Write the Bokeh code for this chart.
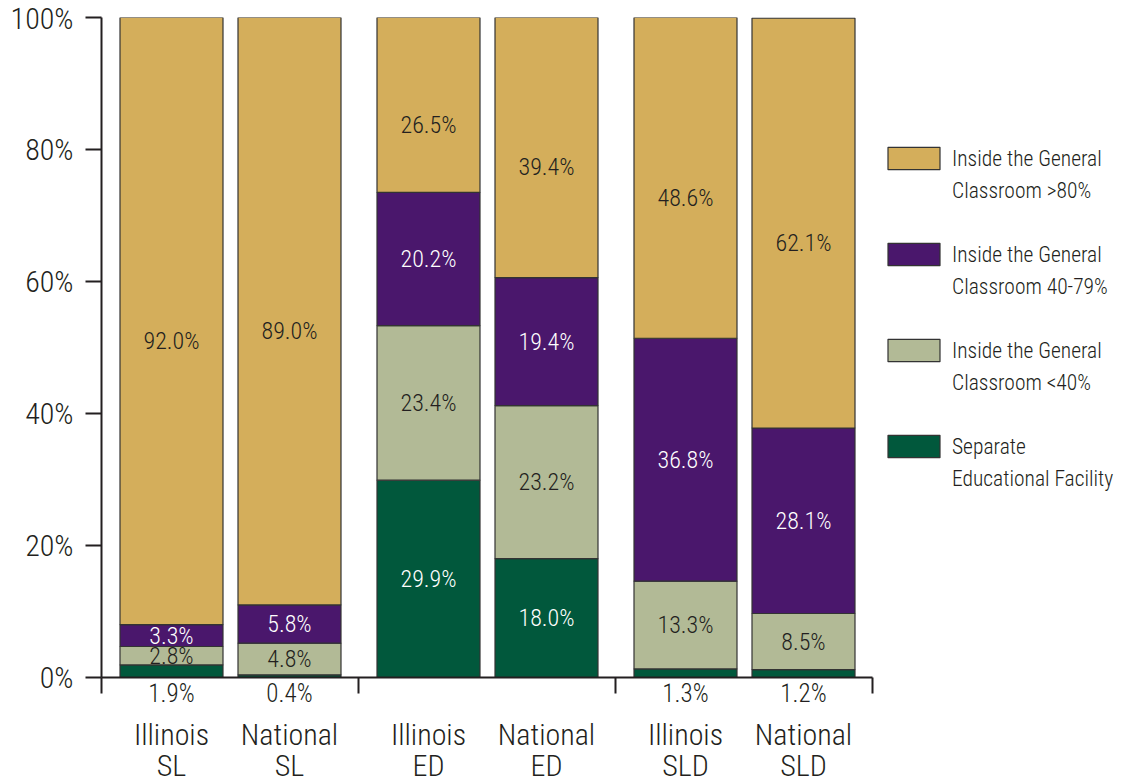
from bokeh.plotting import figure
from bokeh.models import (Range1d, FixedTicker, LinearAxis, PrintfTickFormatter,
                          ColumnDataSource, Legend, LegendItem)
from bokeh.core.properties import value
from bokeh.embed import file_html
from bokeh.resources import INLINE

# ---------------- data ----------------
categories = ["Illinois\nSL", "National\nSL", "Illinois\nED", "National\nED", "Illinois\nSLD", "National\nSLD"]
separate = [1.9, 0.4, 29.9, 18.0, 1.3, 1.2]
under40 = [2.8, 4.8, 23.4, 23.2, 13.3, 8.5]
mid40_79 = [3.3, 5.8, 20.2, 19.4, 36.8, 28.1]
over80 = [92.0, 89.0, 26.5, 39.4, 48.6, 62.1]
series_names = ["Inside the General\nClassroom >80%", "Inside the General\nClassroom 40-79%",
                "Inside the General\nClassroom <40%", "Separate\nEducational Facility"]
y_ticks = [0, 20, 40, 60, 80, 100]

# ---------------- style / layout ----------------
FONT = "Roboto Condensed Light"
INK = "#231f20"
C_OVER = "#d4ae5b"
C_MID = "#4a176c"
C_UNDER = "#b2ba96"
C_SEP = "#01583c"
BAR_W = 103
PITCH = 118
GROUP_PITCH = 257
FIRST = 70
TOP_LABEL_DROP = 3.0   # top-segment labels sit a little below the segment centre

xs = [FIRST + (i // 2) * GROUP_PITCH + (i % 2) * PITCH for i in range(len(categories))]
boundaries = [g * GROUP_PITCH for g in range(len(categories) // 2 + 1)]

stack = [separate, under40, mid40_79, over80]
colors = [C_SEP, C_UNDER, C_MID, C_OVER]
text_colors = ["white", INK, "white", INK]

p = figure(frame_width=1021, frame_height=660, x_range=Range1d(0, 1021), y_range=Range1d(0, 100),
           output_backend="svg", toolbar_location=None, x_axis_location=None, y_axis_location=None,
           min_border_left=101, min_border_top=17, min_border_right=0, min_border_bottom=105)
p.grid.visible = False
p.outline_line_color = None
p.background_fill_color = "white"
p.border_fill_color = "white"

renderers = []
lx, ly, lt, lc = [], [], [], []
below_ticks, below_labels = [], {}
bottoms = [0.0] * len(categories)
for k, (vals, col, tcol) in enumerate(zip(stack, colors, text_colors)):
    tops = [b + v for b, v in zip(bottoms, vals)]
    src = ColumnDataSource(dict(x=xs, bottom=bottoms, top=tops))
    r = p.vbar(x="x", width=BAR_W, bottom="bottom", top="top", source=src,
               fill_color=col, line_color="#333333", line_width=1.2)
    renderers.append(r)
    for i, v in enumerate(vals):
        if k == 0 and v < 2.5:
            below_ticks.append(xs[i])
            below_labels[xs[i]] = f"{v:.1f}%"
        else:
            mid = (bottoms[i] + tops[i]) / 2
            if k == len(stack) - 1:
                mid -= TOP_LABEL_DROP
            lx.append(xs[i]); ly.append(mid)
            lt.append(f"{v:.1f}%"); lc.append(tcol)
    bottoms = tops

p.text(x=lx, y=ly, text=lt, text_color=lc, text_align="center", text_baseline="middle",
       text_font=value(FONT), text_font_size="24px")

yax = LinearAxis(ticker=FixedTicker(ticks=y_ticks), formatter=PrintfTickFormatter(format="%d%%"),
                 major_tick_out=16, major_tick_in=0, minor_tick_out=0, minor_tick_in=0,
                 axis_line_width=2, axis_line_color=INK, major_tick_line_width=2,
                 major_tick_line_color=INK, major_label_text_font=FONT,
                 major_label_text_font_size="30px", major_label_text_color=INK,
                 major_label_standoff=12, bounds=(0, 100))
p.add_layout(yax, "left")

xax = LinearAxis(ticker=FixedTicker(ticks=below_ticks, minor_ticks=boundaries),
                 major_label_overrides=below_labels,
                 major_tick_out=0, major_tick_in=0, minor_tick_out=16, minor_tick_in=0,
                 minor_tick_line_width=2, minor_tick_line_color=INK,
                 axis_line_width=2, axis_line_color=INK, bounds=(0, boundaries[-1]),
                 major_label_text_font=FONT, major_label_text_font_size="25px",
                 major_label_text_color=INK, major_label_standoff=-15)
p.add_layout(xax, "below")

cax = LinearAxis(ticker=FixedTicker(ticks=xs, minor_ticks=[]),
                 major_label_overrides={x: c for x, c in zip(xs, categories)},
                 major_tick_out=0, major_tick_in=0, minor_tick_out=0, minor_tick_in=0,
                 axis_line_color=None, major_label_text_font=FONT,
                 major_label_text_font_size="30px", major_label_text_color=INK,
                 major_label_text_line_height=0.9, major_label_standoff=6)
p.add_layout(cax, "below")

items = []
for j in range(4):
    first, second = series_names[j].split("\n")
    items.append(LegendItem(label=first, renderers=[renderers[3 - j]]))
    items.append(LegendItem(label=second, renderers=[]))
    if j < 3:
        items.append(LegendItem(label="", renderers=[]))

legend = Legend(items=items, location=(780, 185), glyph_width=65, glyph_height=28, label_standoff=6,
                label_text_font=FONT, label_text_font_size="21.5px", label_text_color=INK,
                label_height=28, padding=0, margin=0, spacing=4,
                border_line_color=None, background_fill_alpha=0)
p.add_layout(legend)

open("out.html", "w").write(file_html(p, INLINE))
